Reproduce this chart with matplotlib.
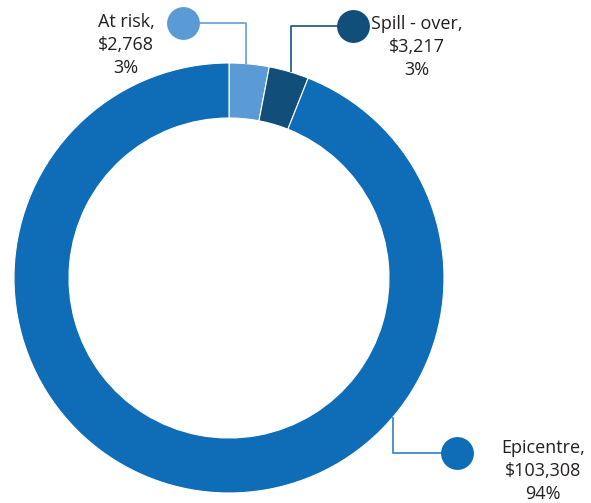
import numpy as np
import matplotlib.pyplot as plt

# segment data, clockwise from the top
names = ['At risk,', 'Spill - over,', 'Epicentre,']
amounts = ['$2,768', '$3,217', '$103,308']
shares = [3, 3, 94]
colors = ['#5b9bd5', '#124e7a', '#0f6cb6']
line_colors = ['#6fa6d9', '#2a5e8c', '#3f88c8']

W, H = 591, 503
fig = plt.figure(figsize=(W / 100, H / 100), dpi=100)
ax = fig.add_axes([0, 0, 1, 1])

cx, cy = 229, H - 278
r_out, ring = 215, 55
ax.pie(shares, colors=colors, startangle=90, counterclock=False,
       center=(cx, cy), radius=r_out, frame=True,
       wedgeprops=dict(width=ring, edgecolor='white', linewidth=0.8))
ax.set_xlim(0, W)
ax.set_ylim(0, H)
ax.set_aspect('equal')
ax.axis('off')

def callout(i, line_x, dot, text_xy):
    # vertical leg from the ring edge, then a horizontal leg to the dot
    dx = line_x - cx
    edge = cy + np.sign(dot[1] - cy) * np.sqrt(r_out**2 - dx**2)
    ax.plot([line_x, line_x, dot[0]], [edge, dot[1], dot[1]],
            color=line_colors[i], lw=1.3, zorder=1, solid_capstyle='butt')
    ax.scatter([dot[0]], [dot[1]], s=560, color=colors[i], zorder=3, linewidths=0)
    ax.text(text_xy[0], text_xy[1], '{}\n{}\n{}%'.format(names[i], amounts[i], shares[i]),
            ha='center', va='center', fontsize=13, family='Open Sans',
            color='#231f20', linespacing=1.33)

callout(0, 246, (183, H - 23), (126, H - 45))
callout(1, 291, (353, H - 26), (417, H - 47))
callout(2, 393, (457, H - 453), (543, H - 471))

fig.savefig('out.png', dpi=100)
